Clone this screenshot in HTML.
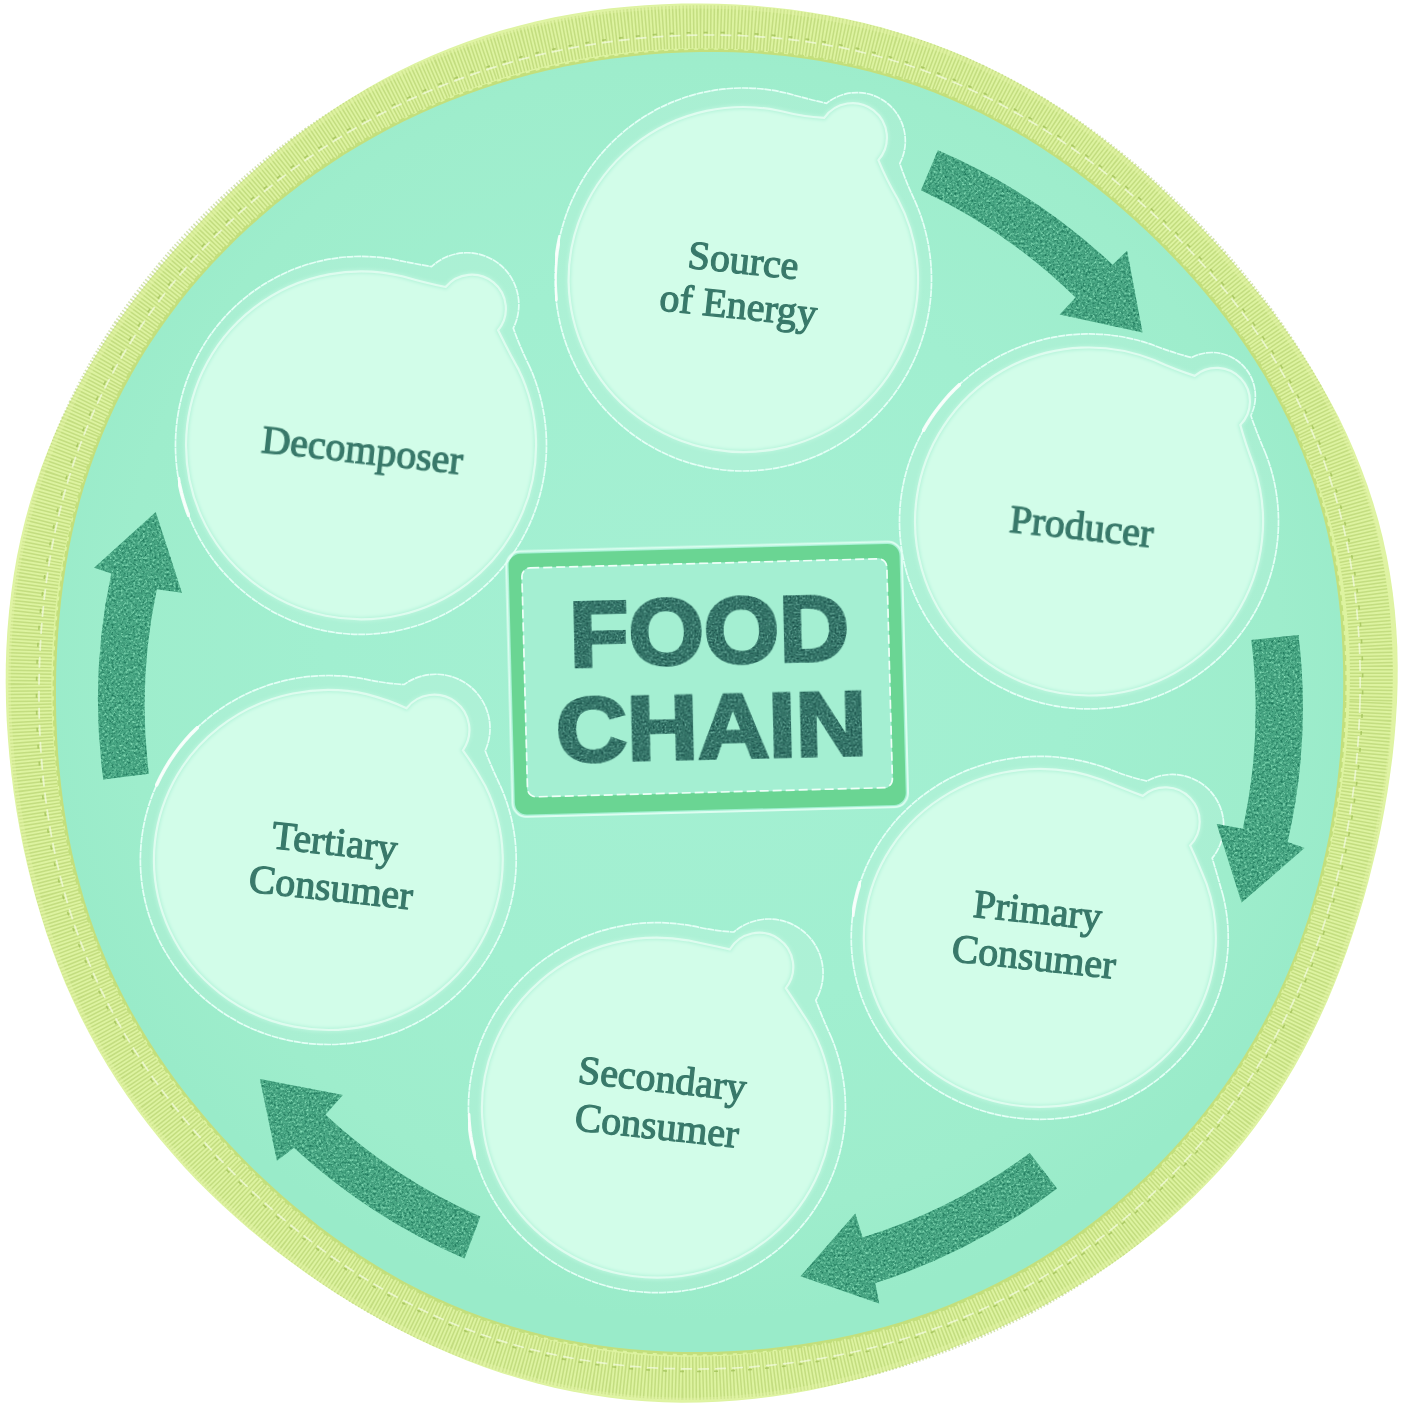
<!DOCTYPE html><html><head><meta charset="utf-8"><title>Food Chain</title><style>html,body{margin:0;padding:0;background:#fff;overflow:hidden}svg{display:block}</style></head><body><svg width="1403" height="1405" viewBox="0 0 1403 1405">
<defs>
<radialGradient id="mg" gradientUnits="userSpaceOnUse" cx="700" cy="640" r="680">
<stop offset="0" stop-color="#a5f0d3"/><stop offset=".55" stop-color="#a1efd0"/><stop offset=".85" stop-color="#9eedcc"/><stop offset="1" stop-color="#99ebc9"/>
</radialGradient>
<filter id="soft0" x="0" y="0" width="100%" height="100%"><feGaussianBlur stdDeviation="0.45"/></filter>
<filter id="soft" x="-2%" y="-2%" width="104%" height="104%"><feGaussianBlur stdDeviation="0.7"/></filter>
<filter id="soft2" x="-2%" y="-2%" width="104%" height="104%"><feGaussianBlur stdDeviation="1.6"/></filter>
<filter id="grain2" x="0" y="0" width="100%" height="100%" color-interpolation-filters="sRGB">
<feTurbulence type="fractalNoise" baseFrequency="0.5" numOctaves="2" seed="5" result="n"/>
<feColorMatrix in="n" type="matrix" values="0 0 0 0 0.45  0 0 0 0 0.71  0 0 0 0 0.65  0 0 0 2.6 -1.2" result="lt"/>
<feColorMatrix in="n" type="matrix" values="0 0 0 0 0.07  0 0 0 0 0.28  0 0 0 0 0.26  2.6 0 0 0 -1.2" result="dk"/>
<feMerge result="m"><feMergeNode in="lt"/><feMergeNode in="dk"/></feMerge>
<feComposite in="m" in2="SourceGraphic" operator="in" result="mm"/>
<feMerge><feMergeNode in="SourceGraphic"/><feMergeNode in="mm"/></feMerge>
</filter>
<filter id="grain" x="0" y="0" width="100%" height="100%" color-interpolation-filters="sRGB">
<feTurbulence type="fractalNoise" baseFrequency="0.42" numOctaves="2" seed="7" result="n"/>
<feColorMatrix in="n" type="matrix" values="0 0 0 0 0.53  0 0 0 0 0.87  0 0 0 0 0.72  0 0 0 2.6 -1.2" result="lt"/>
<feColorMatrix in="n" type="matrix" values="0 0 0 0 0.11  0 0 0 0 0.46  0 0 0 0 0.35  2.6 0 0 0 -1.2" result="dk"/>
<feMerge result="m"><feMergeNode in="lt"/><feMergeNode in="dk"/></feMerge>
<feComposite in="m" in2="SourceGraphic" operator="in" result="mm"/>
<feMerge><feMergeNode in="SourceGraphic"/><feMergeNode in="mm"/></feMerge>
</filter>
</defs>
<rect width="1403" height="1405" fill="#fff"/>
<path d="M1397.0,702.0L1395.9,720.2L1394.4,738.4L1392.5,756.5L1390.1,774.5L1387.4,792.5L1384.3,810.4L1380.9,828.2L1377.1,845.9L1372.9,863.6L1368.5,881.1L1363.7,898.6L1358.5,916.0L1353.0,933.2L1347.1,950.4L1340.9,967.5L1334.2,984.4L1327.2,1001.2L1319.7,1017.8L1311.8,1034.2L1303.4,1050.4L1294.6,1066.4L1285.3,1082.1L1275.5,1097.5L1265.3,1112.7L1254.6,1127.5L1243.4,1142.0L1231.8,1156.2L1219.7,1169.9L1207.2,1183.3L1194.3,1196.3L1181.0,1208.8L1167.3,1221.0L1153.3,1232.7L1138.9,1244.0L1124.3,1254.9L1109.3,1265.4L1094.1,1275.5L1078.7,1285.2L1063.1,1294.5L1047.2,1303.4L1031.2,1312.0L1015.0,1320.2L998.6,1328.0L982.0,1335.5L965.4,1342.6L948.5,1349.4L931.5,1355.9L914.4,1361.9L897.2,1367.7L879.8,1373.0L862.3,1378.0L844.7,1382.5L826.9,1386.7L809.0,1390.4L791.1,1393.7L773.0,1396.5L754.8,1398.7L736.6,1400.5L718.3,1401.8L700.0,1402.5L681.7,1402.7L663.3,1402.2L645.0,1401.3L626.7,1399.7L608.4,1397.5L590.3,1394.8L572.2,1391.5L554.3,1387.7L536.4,1383.3L518.8,1378.3L501.3,1372.9L484.0,1366.9L466.8,1360.5L449.9,1353.6L433.2,1346.2L416.6,1338.5L400.3,1330.3L384.2,1321.7L368.4,1312.8L352.7,1303.5L337.3,1293.9L322.1,1284.0L307.1,1273.7L292.3,1263.1L277.8,1252.2L263.6,1240.9L249.6,1229.4L235.9,1217.5L222.4,1205.3L209.3,1192.7L196.4,1179.9L183.9,1166.7L171.8,1153.1L160.0,1139.3L148.6,1125.1L137.6,1110.6L127.1,1095.8L116.9,1080.6L107.3,1065.2L98.0,1049.5L89.3,1033.6L81.0,1017.4L73.2,1001.0L65.8,984.4L58.9,967.5L52.5,950.6L46.5,933.4L41.0,916.1L35.9,898.7L31.2,881.2L26.9,863.6L23.0,845.9L19.5,828.1L16.4,810.3L13.7,792.4L11.4,774.4L9.4,756.3L7.9,738.3L6.7,720.2L6.0,702.0L5.7,683.8L5.8,665.6L6.4,647.4L7.5,629.2L9.1,611.0L11.2,592.9L13.8,574.8L16.9,556.8L20.6,538.9L24.9,521.1L29.7,503.4L35.1,485.9L41.0,468.6L47.5,451.5L54.5,434.6L62.0,418.0L70.0,401.5L78.6,385.4L87.5,369.5L96.9,353.8L106.7,338.4L116.9,323.3L127.5,308.5L138.4,293.9L149.6,279.6L161.1,265.6L172.9,251.8L185.0,238.3L197.3,225.0L210.0,212.0L222.9,199.2L236.0,186.7L249.5,174.5L263.2,162.6L277.2,150.9L291.4,139.6L305.9,128.7L320.8,118.0L335.9,107.8L351.3,98.0L366.9,88.6L382.9,79.6L399.1,71.1L415.5,63.1L432.2,55.6L449.2,48.5L466.3,42.0L483.6,36.1L501.1,30.6L518.8,25.7L536.6,21.3L554.5,17.3L572.5,13.9L590.6,11.0L608.7,8.6L626.9,6.7L645.2,5.2L663.4,4.2L681.7,3.6L700.0,3.5L718.3,3.8L736.5,4.6L754.8,5.8L773.0,7.5L791.2,9.6L809.3,12.2L827.3,15.2L845.2,18.8L863.1,22.8L880.8,27.3L898.4,32.4L915.8,37.9L933.0,44.0L950.1,50.5L966.9,57.6L983.5,65.2L999.9,73.2L1016.0,81.8L1031.9,90.8L1047.5,100.2L1062.7,110.1L1077.8,120.3L1092.5,130.9L1106.9,141.9L1121.1,153.2L1135.0,164.9L1148.6,176.8L1161.9,189.0L1175.0,201.4L1187.9,214.1L1200.5,227.0L1212.9,240.2L1225.0,253.6L1236.9,267.2L1248.5,281.1L1259.9,295.2L1271.0,309.6L1281.7,324.2L1292.2,339.1L1302.3,354.3L1312.1,369.7L1321.4,385.4L1330.3,401.4L1338.8,417.6L1346.7,434.1L1354.2,450.9L1361.0,467.9L1367.4,485.2L1373.1,502.6L1378.3,520.3L1382.8,538.1L1386.7,556.0L1390.0,574.1L1392.7,592.3L1394.8,610.5L1396.3,628.8L1397.3,647.1L1397.7,665.4L1397.6,683.7Z" fill="#ddf3a0" filter="url(#soft)"/>
<path d="M1371.0,702.0L1370.2,719.5L1369.0,737.1L1367.4,754.5L1365.4,771.9L1363.1,789.3L1360.4,806.6L1357.4,823.8L1354.0,841.0L1350.3,858.1L1346.2,875.1L1341.7,892.1L1336.9,908.9L1331.6,925.7L1326.0,942.3L1320.0,958.8L1313.5,975.2L1306.6,991.4L1299.3,1007.4L1291.6,1023.2L1283.4,1038.8L1274.8,1054.2L1265.7,1069.4L1256.2,1084.3L1246.3,1098.9L1235.9,1113.2L1225.1,1127.2L1213.9,1140.9L1202.3,1154.3L1190.4,1167.3L1178.0,1180.0L1165.3,1192.3L1152.3,1204.3L1138.9,1215.9L1125.2,1227.1L1111.2,1237.9L1096.9,1248.3L1082.4,1258.4L1067.6,1268.0L1052.5,1277.3L1037.3,1286.2L1021.8,1294.7L1006.1,1302.7L990.2,1310.4L974.1,1317.7L957.9,1324.6L941.5,1331.1L924.9,1337.2L908.2,1342.9L891.4,1348.1L874.4,1353.0L857.4,1357.5L840.2,1361.5L822.9,1365.1L805.5,1368.3L788.1,1371.1L770.6,1373.4L753.0,1375.3L735.4,1376.8L717.7,1377.7L700.0,1378.2L682.3,1378.3L664.6,1377.8L646.9,1376.9L629.2,1375.4L611.6,1373.5L594.0,1371.0L576.6,1368.0L559.2,1364.6L541.9,1360.6L524.7,1356.0L507.7,1351.0L490.9,1345.5L474.2,1339.5L457.8,1333.1L441.5,1326.1L425.4,1318.7L409.6,1310.9L393.9,1302.7L378.5,1294.1L363.4,1285.1L348.5,1275.7L333.8,1265.9L319.4,1255.8L305.2,1245.4L291.2,1234.7L277.6,1223.7L264.2,1212.3L251.0,1200.7L238.1,1188.7L225.5,1176.5L213.2,1163.9L201.2,1151.1L189.5,1138.0L178.2,1124.6L167.2,1110.9L156.5,1096.9L146.3,1082.6L136.4,1068.0L126.9,1053.2L117.9,1038.1L109.3,1022.7L101.2,1007.1L93.5,991.3L86.2,975.3L79.5,959.0L73.2,942.6L67.3,926.0L62.0,909.3L57.0,892.5L52.6,875.5L48.5,858.4L44.9,841.2L41.7,824.0L38.9,806.7L36.4,789.4L34.4,772.0L32.7,754.5L31.4,737.0L30.5,719.5L30.0,702.0L29.8,684.5L30.1,666.9L30.7,649.3L31.8,631.8L33.2,614.2L35.1,596.7L37.5,579.2L40.3,561.8L43.7,544.4L47.5,527.2L51.8,510.0L56.6,492.9L61.9,476.1L67.8,459.3L74.2,442.8L81.0,426.4L88.4,410.3L96.3,394.4L104.6,378.7L113.4,363.3L122.7,348.2L132.3,333.3L142.4,318.8L152.8,304.5L163.7,290.5L174.8,276.7L186.3,263.3L198.1,250.1L210.3,237.3L222.7,224.7L235.4,212.4L248.4,200.5L261.7,188.8L275.2,177.5L289.1,166.4L303.1,155.8L317.5,145.4L332.1,135.5L347.0,125.9L362.1,116.7L377.4,107.9L393.0,99.6L408.9,91.6L424.9,84.2L441.2,77.1L457.6,70.6L474.2,64.5L491.0,58.8L508.0,53.7L525.0,49.0L542.2,44.8L559.5,41.0L576.9,37.7L594.3,34.8L611.8,32.4L629.4,30.4L647.0,28.9L664.7,27.7L682.3,27.0L700.0,26.7L717.7,26.9L735.4,27.5L753.0,28.5L770.6,29.9L788.2,31.8L805.8,34.2L823.2,37.0L840.6,40.3L857.9,44.1L875.1,48.4L892.2,53.2L909.1,58.5L925.8,64.3L942.4,70.6L958.7,77.4L974.9,84.6L990.8,92.4L1006.4,100.6L1021.9,109.2L1037.0,118.3L1051.9,127.7L1066.5,137.6L1080.9,147.8L1095.0,158.3L1108.8,169.2L1122.4,180.4L1135.7,191.9L1148.8,203.6L1161.6,215.6L1174.1,227.9L1186.4,240.4L1198.5,253.2L1210.2,266.2L1221.8,279.5L1233.0,293.0L1243.9,306.8L1254.5,320.9L1264.8,335.2L1274.8,349.8L1284.3,364.7L1293.4,379.8L1302.2,395.2L1310.4,410.9L1318.2,426.8L1325.5,442.9L1332.2,459.3L1338.5,475.9L1344.2,492.7L1349.3,509.7L1353.9,526.8L1357.9,544.0L1361.4,561.4L1364.3,578.9L1366.7,596.4L1368.6,614.0L1370.0,631.6L1371.0,649.2L1371.4,666.8L1371.4,684.4Z" fill="none" stroke="#a9c860" stroke-opacity=".5" stroke-width="43" stroke-dasharray="1.5 1.9"/>
<path d="M1394.0,702.0L1392.9,720.1L1391.4,738.2L1389.5,756.3L1387.1,774.2L1384.4,792.1L1381.3,809.9L1377.9,827.6L1374.1,845.3L1370.0,862.9L1365.6,880.3L1360.8,897.7L1355.7,915.0L1350.2,932.2L1344.3,949.3L1338.1,966.3L1331.5,983.2L1324.5,999.9L1317.0,1016.4L1309.2,1032.7L1300.8,1048.9L1292.0,1064.8L1282.8,1080.5L1273.1,1095.8L1262.9,1110.9L1252.2,1125.7L1241.1,1140.1L1229.5,1154.2L1217.5,1167.9L1205.0,1181.2L1192.1,1194.1L1178.9,1206.7L1165.3,1218.7L1151.3,1230.4L1137.0,1241.7L1122.4,1252.5L1107.6,1263.0L1092.4,1273.0L1077.1,1282.7L1061.5,1291.9L1045.7,1300.8L1029.7,1309.3L1013.6,1317.5L997.3,1325.3L980.8,1332.7L964.2,1339.8L947.4,1346.6L930.5,1353.0L913.5,1359.1L896.3,1364.8L879.0,1370.1L861.6,1375.1L844.0,1379.6L826.4,1383.7L808.6,1387.4L790.7,1390.7L772.7,1393.5L754.6,1395.8L736.5,1397.5L718.2,1398.8L700.0,1399.5L681.7,1399.7L663.5,1399.2L645.2,1398.3L627.0,1396.7L608.8,1394.6L590.7,1391.9L572.7,1388.6L554.9,1384.7L537.1,1380.4L519.6,1375.4L502.1,1370.0L484.9,1364.1L467.8,1357.6L451.0,1350.8L434.3,1343.4L417.9,1335.7L401.6,1327.6L385.6,1319.1L369.8,1310.2L354.2,1301.0L338.8,1291.4L323.7,1281.5L308.8,1271.2L294.1,1260.7L279.7,1249.8L265.5,1238.6L251.5,1227.1L237.9,1215.3L224.5,1203.1L211.4,1190.6L198.6,1177.8L186.2,1164.7L174.1,1151.2L162.3,1137.4L151.0,1123.3L140.1,1108.8L129.5,1094.1L119.5,1079.0L109.8,1063.7L100.6,1048.0L91.9,1032.2L83.7,1016.0L75.9,999.7L68.6,983.1L61.7,966.4L55.3,949.5L49.3,932.4L43.8,915.2L38.7,897.9L34.1,880.4L29.8,862.9L25.9,845.3L22.5,827.6L19.4,809.8L16.7,792.0L14.4,774.1L12.4,756.1L10.9,738.1L9.7,720.1L9.0,702.0L8.7,683.9L8.8,665.8L9.4,647.7L10.5,629.5L12.1,611.4L14.1,593.4L16.7,575.4L19.9,557.4L23.5,539.6L27.8,521.9L32.6,504.3L37.9,486.9L43.8,469.6L50.3,452.6L57.3,435.8L64.8,419.2L72.8,402.8L81.2,386.7L90.2,370.9L99.5,355.3L109.3,340.0L119.4,325.0L129.9,310.2L140.8,295.7L151.9,281.5L163.4,267.5L175.2,253.8L187.2,240.3L199.5,227.1L212.1,214.1L224.9,201.4L238.0,188.9L251.4,176.8L265.1,164.9L279.0,153.3L293.2,142.1L307.6,131.1L322.4,120.6L337.4,110.4L352.8,100.6L368.4,91.2L384.2,82.3L400.4,73.8L416.8,65.8L433.4,58.3L450.2,51.3L467.3,44.9L484.6,38.9L502.0,33.5L519.6,28.6L537.3,24.2L555.1,20.3L573.0,16.9L591.0,14.0L609.1,11.6L627.2,9.7L645.4,8.2L663.6,7.2L681.8,6.6L700.0,6.5L718.2,6.8L736.4,7.6L754.6,8.8L772.7,10.5L790.8,12.6L808.8,15.1L826.7,18.2L844.6,21.7L862.4,25.7L880.0,30.2L897.5,35.2L914.8,40.8L932.0,46.8L949.0,53.3L965.8,60.4L982.3,67.9L998.6,75.9L1014.7,84.4L1030.4,93.4L1046.0,102.8L1061.2,112.6L1076.1,122.8L1090.8,133.4L1105.2,144.4L1119.3,155.6L1133.1,167.2L1146.6,179.1L1159.9,191.2L1173.0,203.6L1185.8,216.2L1198.3,229.1L1210.7,242.2L1222.7,255.5L1234.6,269.1L1246.1,282.9L1257.4,297.0L1268.5,311.3L1279.2,325.8L1289.6,340.7L1299.7,355.8L1309.4,371.1L1318.7,386.7L1327.6,402.6L1336.0,418.8L1343.9,435.3L1351.4,452.0L1358.2,468.9L1364.5,486.1L1370.2,503.5L1375.4,521.0L1379.9,538.8L1383.8,556.7L1387.1,574.7L1389.8,592.8L1391.9,610.9L1393.4,629.1L1394.3,647.4L1394.7,665.6L1394.6,683.8Z" fill="none" stroke="#e4f4a8" stroke-width="4" opacity=".4" filter="url(#soft)"/>
<path d="M1360.0,702.0L1359.4,719.3L1358.5,736.5L1357.2,753.7L1355.6,770.9L1353.7,788.1L1351.3,805.2L1348.7,822.2L1345.6,839.2L1342.2,856.2L1338.3,873.0L1334.1,889.8L1329.5,906.5L1324.4,923.1L1318.9,939.6L1312.9,955.9L1306.5,972.0L1299.6,988.0L1292.3,1003.8L1284.6,1019.4L1276.4,1034.8L1267.8,1049.9L1258.7,1064.8L1249.3,1079.5L1239.4,1093.9L1229.1,1108.0L1218.5,1121.9L1207.5,1135.4L1196.1,1148.7L1184.4,1161.7L1172.3,1174.3L1160.0,1186.7L1147.3,1198.7L1134.2,1210.4L1120.9,1221.8L1107.3,1232.8L1093.3,1243.4L1079.1,1253.6L1064.6,1263.5L1049.9,1272.9L1034.8,1281.9L1019.5,1290.5L1004.0,1298.7L988.3,1306.4L972.3,1313.7L956.2,1320.4L939.8,1326.8L923.3,1332.6L906.7,1338.0L889.9,1343.0L873.0,1347.5L855.9,1351.5L838.8,1355.1L821.6,1358.3L804.4,1361.1L787.1,1363.4L769.7,1365.3L752.3,1366.9L734.9,1368.0L717.5,1368.7L700.0,1369.0L682.5,1368.9L665.1,1368.4L647.6,1367.5L630.2,1366.1L612.8,1364.3L595.5,1362.0L578.2,1359.3L561.0,1356.1L543.8,1352.4L526.8,1348.3L510.0,1343.6L493.2,1338.4L476.6,1332.7L460.3,1326.6L444.1,1319.9L428.1,1312.7L412.3,1305.1L396.8,1297.0L381.6,1288.5L366.6,1279.5L351.8,1270.2L337.3,1260.5L323.1,1250.4L309.2,1239.9L295.5,1229.1L282.1,1218.0L269.0,1206.7L256.1,1195.0L243.5,1183.0L231.2,1170.8L219.1,1158.3L207.4,1145.6L195.9,1132.6L184.7,1119.3L173.8,1105.7L163.3,1091.9L153.1,1077.9L143.3,1063.5L133.8,1049.0L124.8,1034.1L116.1,1019.0L108.0,1003.7L100.2,988.1L93.0,972.3L86.2,956.3L79.9,940.0L74.0,923.7L68.7,907.1L63.9,890.4L59.5,873.6L55.6,856.7L52.1,839.7L49.1,822.6L46.5,805.5L44.3,788.3L42.5,771.1L41.1,753.9L40.0,736.6L39.3,719.3L39.0,702.0L39.0,684.7L39.4,667.4L40.1,650.1L41.1,632.7L42.5,615.4L44.3,598.2L46.5,580.9L49.1,563.6L52.1,546.5L55.6,529.3L59.5,512.3L63.9,495.3L68.7,478.5L74.1,461.7L80.0,445.2L86.4,428.8L93.3,412.6L100.6,396.6L108.5,380.9L116.9,365.4L125.8,350.1L135.2,335.2L145.0,320.5L155.2,306.2L165.9,292.1L176.9,278.4L188.4,265.0L200.2,252.0L212.3,239.2L224.8,226.8L237.6,214.8L250.8,203.1L264.2,191.7L277.9,180.7L291.8,170.1L306.1,159.8L320.5,149.9L335.3,140.3L350.2,131.2L365.4,122.4L380.8,114.1L396.4,106.2L412.2,98.6L428.2,91.5L444.4,84.8L460.7,78.6L477.2,72.8L493.8,67.4L510.5,62.4L527.4,57.8L544.4,53.7L561.4,50.0L578.5,46.7L595.8,43.8L613.0,41.3L630.3,39.2L647.7,37.6L665.1,36.3L682.5,35.4L700.0,35.0L717.5,35.0L734.9,35.4L752.4,36.2L769.8,37.5L787.3,39.2L804.6,41.4L821.9,44.1L839.2,47.2L856.3,50.9L873.4,55.0L890.3,59.7L907.0,64.8L923.6,70.5L940.1,76.6L956.3,83.3L972.3,90.4L988.1,98.0L1003.7,106.0L1019.0,114.5L1034.1,123.4L1048.9,132.6L1063.5,142.3L1077.8,152.3L1091.9,162.6L1105.7,173.3L1119.2,184.3L1132.6,195.5L1145.6,207.1L1158.4,218.9L1170.9,231.1L1183.2,243.5L1195.2,256.1L1206.9,269.1L1218.3,282.3L1229.4,295.8L1240.1,309.6L1250.5,323.7L1260.5,338.0L1270.1,352.6L1279.3,367.6L1288.0,382.7L1296.3,398.2L1304.0,413.9L1311.3,429.8L1318.1,446.0L1324.3,462.3L1330.0,478.9L1335.2,495.6L1339.9,512.5L1344.0,529.4L1347.6,546.5L1350.7,563.7L1353.4,580.9L1355.6,598.2L1357.3,615.5L1358.6,632.8L1359.6,650.1L1360.1,667.4L1360.2,684.7Z" fill="none" stroke="#f4fbe2" stroke-width="1.7" stroke-dasharray="11 6" opacity=".7"/>
<path d="M1362.5,702.0L1361.9,719.3L1361.0,736.6L1359.7,753.9L1358.1,771.2L1356.1,788.4L1353.8,805.6L1351.1,822.7L1348.1,839.7L1344.6,856.8L1340.8,873.7L1336.5,890.5L1331.8,907.3L1326.7,923.9L1321.2,940.5L1315.2,956.8L1308.8,973.0L1301.9,989.1L1294.6,1004.9L1286.8,1020.6L1278.6,1036.0L1269.9,1051.2L1260.8,1066.2L1251.3,1080.9L1241.4,1095.4L1231.1,1109.5L1220.4,1123.4L1209.4,1137.1L1198.0,1150.4L1186.2,1163.4L1174.1,1176.1L1161.7,1188.5L1148.9,1200.6L1135.9,1212.3L1122.5,1223.7L1108.8,1234.7L1094.8,1245.4L1080.5,1255.7L1066.0,1265.6L1051.2,1275.0L1036.1,1284.1L1020.7,1292.7L1005.2,1300.9L989.4,1308.7L973.3,1315.9L957.1,1322.8L940.7,1329.1L924.2,1335.0L907.4,1340.4L890.6,1345.4L873.6,1349.9L856.5,1354.0L839.4,1357.6L822.1,1360.8L804.8,1363.5L787.4,1365.9L770.0,1367.8L752.5,1369.4L735.0,1370.5L717.5,1371.2L700.0,1371.5L682.5,1371.4L664.9,1370.9L647.4,1369.9L629.9,1368.6L612.5,1366.8L595.1,1364.5L577.7,1361.8L560.4,1358.6L543.3,1354.9L526.2,1350.7L509.2,1346.0L492.4,1340.8L475.8,1335.1L459.4,1328.9L443.1,1322.2L427.1,1315.0L411.3,1307.4L395.7,1299.3L380.4,1290.7L365.3,1281.7L350.5,1272.3L336.0,1262.6L321.7,1252.4L307.7,1241.9L294.0,1231.1L280.5,1220.0L267.4,1208.6L254.4,1196.8L241.8,1184.8L229.4,1172.6L217.3,1160.0L205.5,1147.2L194.0,1134.2L182.8,1120.9L171.8,1107.3L161.3,1093.4L151.0,1079.3L141.2,1064.9L131.7,1050.3L122.6,1035.4L114.0,1020.2L105.7,1004.8L98.0,989.2L90.7,973.3L83.9,957.2L77.5,940.9L71.7,924.5L66.3,907.9L61.5,891.1L57.1,874.3L53.1,857.3L49.7,840.2L46.6,823.1L44.0,805.9L41.8,788.7L40.0,771.4L38.6,754.1L37.5,736.7L36.8,719.4L36.5,702.0L36.5,684.6L36.9,667.2L37.6,649.9L38.6,632.5L40.0,615.1L41.9,597.8L44.0,580.4L46.7,563.1L49.7,545.9L53.2,528.7L57.1,511.6L61.5,494.5L66.4,477.6L71.8,460.8L77.7,444.2L84.1,427.8L91.0,411.5L98.4,395.5L106.3,379.7L114.8,364.1L123.7,348.8L133.1,333.8L142.9,319.1L153.2,304.7L163.9,290.6L175.0,276.8L186.5,263.4L198.3,250.3L210.5,237.5L223.1,225.1L235.9,213.0L249.1,201.2L262.5,189.8L276.3,178.8L290.3,168.1L304.6,157.8L319.1,147.8L333.9,138.2L348.9,129.1L364.1,120.3L379.6,111.9L395.3,103.9L411.1,96.4L427.2,89.2L443.4,82.5L459.8,76.3L476.3,70.4L493.0,65.0L509.8,60.0L526.7,55.4L543.8,51.3L560.9,47.5L578.1,44.2L595.4,41.3L612.7,38.8L630.1,36.8L647.5,35.1L665.0,33.8L682.5,32.9L700.0,32.5L717.5,32.5L735.1,32.9L752.6,33.7L770.1,35.0L787.6,36.7L805.0,38.9L822.4,41.6L839.7,44.8L856.9,48.4L874.0,52.6L891.0,57.3L907.8,62.5L924.5,68.1L941.0,74.3L957.2,81.0L973.3,88.1L989.2,95.7L1004.8,103.8L1020.2,112.3L1035.3,121.2L1050.2,130.5L1064.8,140.2L1079.2,150.2L1093.3,160.6L1107.2,171.3L1120.8,182.3L1134.2,193.6L1147.3,205.2L1160.1,217.1L1172.7,229.3L1185.0,241.7L1197.0,254.5L1208.8,267.5L1220.2,280.7L1231.4,294.3L1242.1,308.1L1252.6,322.2L1262.6,336.6L1272.2,351.3L1281.4,366.3L1290.2,381.5L1298.5,397.1L1306.3,412.8L1313.6,428.8L1320.4,445.0L1326.6,461.5L1332.4,478.1L1337.6,494.8L1342.2,511.8L1346.4,528.8L1350.0,545.9L1353.2,563.2L1355.9,580.4L1358.1,597.8L1359.8,615.1L1361.1,632.5L1362.0,649.9L1362.6,667.3L1362.7,684.6Z" fill="none" stroke="#9dbe52" stroke-width="1.6" stroke-dasharray="4 13" stroke-dashoffset="-12" opacity=".7"/>
<path d="M1345.2,702.0L1344.6,718.9L1343.7,735.7L1342.5,752.6L1340.9,769.4L1339.0,786.1L1336.7,802.8L1334.1,819.5L1331.1,836.2L1327.8,852.7L1324.1,869.2L1319.9,885.6L1315.4,902.0L1310.4,918.2L1305.0,934.3L1299.2,950.2L1293.0,966.0L1286.3,981.6L1279.1,997.1L1271.6,1012.3L1263.6,1027.4L1255.2,1042.2L1246.3,1056.8L1237.1,1071.1L1227.4,1085.2L1217.4,1099.0L1207.0,1112.6L1196.2,1125.8L1185.1,1138.8L1173.7,1151.5L1161.9,1163.9L1149.8,1176.0L1137.3,1187.7L1124.6,1199.2L1111.6,1210.3L1098.3,1221.0L1084.6,1231.4L1070.7,1241.4L1056.6,1251.1L1042.1,1260.3L1027.4,1269.1L1012.5,1277.5L997.3,1285.5L981.9,1293.0L966.3,1300.1L950.5,1306.8L934.5,1313.0L918.4,1318.7L902.1,1324.0L885.7,1328.8L869.1,1333.2L852.5,1337.1L835.8,1340.7L818.9,1343.8L802.1,1346.5L785.1,1348.7L768.2,1350.6L751.2,1352.1L734.1,1353.2L717.1,1353.9L700.0,1354.2L682.9,1354.1L665.9,1353.6L648.8,1352.7L631.7,1351.4L614.7,1349.6L597.8,1347.4L580.9,1344.8L564.0,1341.6L547.3,1338.0L530.7,1334.0L514.2,1329.4L497.8,1324.3L481.6,1318.8L465.6,1312.7L449.7,1306.2L434.1,1299.2L418.7,1291.8L403.5,1283.8L388.6,1275.5L374.0,1266.7L359.5,1257.6L345.4,1248.0L331.5,1238.2L317.9,1227.9L304.5,1217.4L291.4,1206.5L278.6,1195.4L266.0,1184.0L253.7,1172.3L241.7,1160.3L229.9,1148.1L218.4,1135.7L207.1,1122.9L196.2,1110.0L185.6,1096.7L175.3,1083.2L165.3,1069.5L155.7,1055.5L146.4,1041.2L137.6,1026.7L129.2,1011.9L121.2,996.9L113.6,981.7L106.5,966.2L99.8,950.6L93.7,934.7L88.0,918.7L82.8,902.5L78.0,886.2L73.8,869.8L70.0,853.3L66.6,836.6L63.6,819.9L61.1,803.2L59.0,786.4L57.2,769.6L55.8,752.7L54.8,735.8L54.1,718.9L53.8,702.0L53.8,685.1L54.1,668.2L54.8,651.2L55.8,634.3L57.2,617.4L58.9,600.5L61.1,583.6L63.6,566.7L66.5,549.9L69.9,533.2L73.7,516.5L78.0,499.9L82.7,483.4L87.9,467.0L93.7,450.8L99.9,434.8L106.6,419.0L113.8,403.3L121.6,387.9L129.8,372.8L138.4,357.9L147.6,343.2L157.2,328.9L167.2,314.9L177.6,301.1L188.4,287.7L199.6,274.6L211.2,261.9L223.1,249.4L235.3,237.3L247.8,225.5L260.7,214.1L273.8,203.0L287.2,192.2L300.8,181.8L314.7,171.7L328.9,162.1L343.3,152.7L357.9,143.8L372.8,135.3L387.9,127.1L403.1,119.3L418.6,112.0L434.2,105.1L450.0,98.5L466.0,92.4L482.1,86.7L498.4,81.4L514.7,76.6L531.2,72.1L547.8,68.1L564.5,64.5L581.2,61.2L598.1,58.4L615.0,56.0L631.9,54.0L648.9,52.3L665.9,51.1L682.9,50.2L700.0,49.8L717.1,49.8L734.2,50.1L751.2,51.0L768.3,52.2L785.3,53.9L802.3,56.0L819.2,58.6L836.1,61.7L852.9,65.3L869.5,69.3L886.1,73.9L902.5,78.9L918.7,84.4L934.8,90.5L950.6,97.0L966.3,103.9L981.7,111.3L997.0,119.2L1011.9,127.5L1026.7,136.2L1041.2,145.3L1055.4,154.7L1069.4,164.5L1083.2,174.6L1096.7,185.0L1109.9,195.8L1122.9,206.8L1135.7,218.1L1148.2,229.7L1160.5,241.5L1172.5,253.6L1184.2,266.0L1195.6,278.7L1206.8,291.6L1217.6,304.8L1228.1,318.3L1238.3,332.0L1248.1,346.1L1257.5,360.4L1266.5,375.0L1275.0,389.8L1283.1,404.9L1290.7,420.3L1297.8,435.8L1304.4,451.6L1310.5,467.7L1316.1,483.8L1321.1,500.2L1325.7,516.7L1329.7,533.3L1333.2,550.0L1336.3,566.8L1338.8,583.6L1341.0,600.5L1342.7,617.4L1343.9,634.3L1344.8,651.3L1345.3,668.2L1345.4,685.1Z" fill="#c3df7c" stroke="#c3df7c" stroke-width="2.4" stroke-dasharray="6 4"/>
<path d="M1343.0,702.0L1342.4,718.8L1341.5,735.6L1340.3,752.4L1338.7,769.1L1336.8,785.8L1334.5,802.5L1331.9,819.1L1329.0,835.7L1325.6,852.2L1321.9,868.6L1317.8,885.0L1313.3,901.3L1308.4,917.4L1303.0,933.5L1297.2,949.4L1291.0,965.1L1284.3,980.7L1277.2,996.1L1269.6,1011.3L1261.7,1026.3L1253.3,1041.0L1244.5,1055.6L1235.2,1069.9L1225.6,1083.9L1215.6,1097.7L1205.3,1111.2L1194.6,1124.4L1183.5,1137.3L1172.1,1150.0L1160.3,1162.3L1148.3,1174.4L1135.9,1186.1L1123.2,1197.5L1110.2,1208.6L1096.9,1219.3L1083.3,1229.6L1069.5,1239.6L1055.4,1249.2L1041.0,1258.4L1026.3,1267.2L1011.4,1275.6L996.3,1283.5L981.0,1291.1L965.4,1298.1L949.7,1304.7L933.7,1310.9L917.6,1316.6L901.4,1321.9L885.0,1326.7L868.6,1331.1L852.0,1335.0L835.3,1338.5L818.5,1341.6L801.7,1344.3L784.9,1346.6L767.9,1348.4L751.0,1349.9L734.0,1351.0L717.0,1351.7L700.0,1352.0L683.0,1351.9L666.0,1351.4L649.0,1350.5L632.0,1349.2L615.0,1347.4L598.1,1345.2L581.3,1342.6L564.5,1339.5L547.8,1335.9L531.2,1331.8L514.8,1327.3L498.5,1322.2L482.3,1316.7L466.3,1310.7L450.6,1304.2L435.0,1297.2L419.6,1289.8L404.5,1281.9L389.7,1273.6L375.1,1264.8L360.7,1255.7L346.6,1246.2L332.8,1236.3L319.2,1226.2L305.9,1215.6L292.8,1204.8L280.0,1193.7L267.5,1182.3L255.2,1170.7L243.2,1158.8L231.5,1146.6L220.0,1134.2L208.8,1121.5L197.9,1108.6L187.3,1095.4L177.0,1082.0L167.1,1068.3L157.5,1054.3L148.3,1040.1L139.5,1025.6L131.1,1010.9L123.1,995.9L115.6,980.8L108.5,965.4L101.9,949.7L95.7,934.0L90.1,918.0L84.9,901.9L80.2,885.6L75.9,869.2L72.1,852.7L68.7,836.2L65.8,819.5L63.3,802.8L61.2,786.1L59.4,769.3L58.0,752.5L57.0,735.7L56.3,718.9L56.0,702.0L56.0,685.1L56.3,668.3L57.0,651.4L58.0,634.5L59.4,617.7L61.1,600.8L63.2,584.0L65.7,567.2L68.6,550.4L72.0,533.7L75.8,517.1L80.0,500.6L84.8,484.1L90.0,467.8L95.7,451.7L101.9,435.7L108.6,419.9L115.8,404.3L123.5,389.0L131.7,373.9L140.3,359.0L149.4,344.4L159.0,330.2L169.0,316.2L179.3,302.5L190.1,289.1L201.3,276.1L212.8,263.3L224.7,250.9L236.8,238.8L249.3,227.1L262.1,215.7L275.2,204.6L288.6,193.9L302.2,183.5L316.0,173.5L330.2,163.9L344.5,154.6L359.1,145.7L373.9,137.2L388.9,129.0L404.1,121.3L419.5,114.0L435.1,107.1L450.9,100.6L466.8,94.5L482.9,88.8L499.0,83.5L515.4,78.7L531.8,74.3L548.3,70.2L564.9,66.6L581.6,63.4L598.4,60.6L615.2,58.2L632.1,56.2L649.0,54.5L666.0,53.3L683.0,52.4L700.0,52.0L717.0,52.0L734.0,52.3L751.1,53.1L768.1,54.4L785.0,56.1L802.0,58.2L818.8,60.8L835.6,63.9L852.4,67.4L869.0,71.4L885.4,76.0L901.8,81.0L918.0,86.5L934.0,92.5L949.8,99.0L965.4,105.9L980.8,113.3L996.0,121.2L1010.9,129.4L1025.6,138.1L1040.0,147.1L1054.2,156.5L1068.2,166.3L1081.9,176.4L1095.3,186.8L1108.6,197.5L1121.5,208.5L1134.2,219.7L1146.7,231.3L1158.9,243.1L1170.9,255.2L1182.6,267.5L1194.0,280.1L1205.1,293.0L1215.9,306.1L1226.4,319.6L1236.5,333.3L1246.2,347.3L1255.6,361.5L1264.6,376.1L1273.1,390.9L1281.1,405.9L1288.7,421.2L1295.8,436.7L1302.4,452.5L1308.4,468.4L1314.0,484.6L1319.0,500.9L1323.6,517.3L1327.6,533.8L1331.1,550.5L1334.1,567.2L1336.7,584.0L1338.8,600.8L1340.5,617.7L1341.7,634.6L1342.6,651.4L1343.1,668.3L1343.2,685.2Z" fill="url(#mg)"/>
<clipPath id="disc"><path d="M1342.0,702.0L1341.4,718.8L1340.5,735.6L1339.3,752.3L1337.7,769.0L1335.8,785.7L1333.6,802.3L1331.0,818.9L1328.0,835.5L1324.7,852.0L1321.0,868.4L1316.9,884.7L1312.3,901.0L1307.4,917.1L1302.1,933.1L1296.3,949.0L1290.1,964.7L1283.4,980.3L1276.3,995.6L1268.8,1010.8L1260.8,1025.8L1252.4,1040.5L1243.6,1055.0L1234.4,1069.3L1224.8,1083.3L1214.9,1097.1L1204.5,1110.5L1193.8,1123.7L1182.7,1136.7L1171.3,1149.3L1159.6,1161.6L1147.6,1173.6L1135.2,1185.3L1122.5,1196.7L1109.6,1207.8L1096.3,1218.5L1082.8,1228.8L1068.9,1238.8L1054.8,1248.4L1040.5,1257.6L1025.8,1266.3L1011.0,1274.7L995.9,1282.7L980.5,1290.2L965.0,1297.2L949.3,1303.8L933.4,1310.0L917.3,1315.7L901.1,1320.9L884.8,1325.7L868.3,1330.1L851.7,1334.0L835.1,1337.5L818.4,1340.6L801.6,1343.3L784.7,1345.6L767.8,1347.4L750.9,1348.9L734.0,1350.0L717.0,1350.7L700.0,1351.0L683.0,1350.9L666.0,1350.4L649.0,1349.5L632.1,1348.2L615.2,1346.4L598.3,1344.3L581.5,1341.6L564.7,1338.5L548.0,1334.9L531.5,1330.9L515.1,1326.3L498.8,1321.3L482.7,1315.8L466.7,1309.8L450.9,1303.3L435.4,1296.3L420.1,1288.9L405.0,1281.0L390.1,1272.7L375.6,1264.0L361.2,1254.8L347.1,1245.4L333.3,1235.5L319.8,1225.3L306.5,1214.9L293.4,1204.1L280.7,1193.0L268.2,1181.6L255.9,1170.0L243.9,1158.1L232.2,1145.9L220.7,1133.5L209.6,1120.9L198.7,1108.0L188.1,1094.8L177.8,1081.4L167.9,1067.7L158.4,1053.7L149.2,1039.6L140.4,1025.1L132.0,1010.4L124.0,995.5L116.5,980.3L109.4,964.9L102.8,949.4L96.7,933.6L91.0,917.7L85.8,901.6L81.1,885.3L76.9,869.0L73.1,852.5L69.7,836.0L66.8,819.4L64.3,802.7L62.1,786.0L60.4,769.2L59.0,752.4L58.0,735.6L57.3,718.8L57.0,702.0L57.0,685.2L57.3,668.3L58.0,651.5L59.0,634.6L60.4,617.8L62.1,601.0L64.2,584.2L66.7,567.4L69.6,550.7L73.0,534.0L76.7,517.4L81.0,500.9L85.7,484.5L90.9,468.2L96.6,452.1L102.8,436.1L109.5,420.3L116.7,404.8L124.4,389.5L132.5,374.4L141.2,359.5L150.3,345.0L159.8,330.7L169.8,316.8L180.1,303.1L190.9,289.7L202.0,276.7L213.5,264.0L225.4,251.6L237.6,239.6L250.0,227.8L262.8,216.4L275.9,205.4L289.2,194.7L302.8,184.3L316.6,174.3L330.7,164.7L345.1,155.4L359.6,146.5L374.4,138.0L389.4,129.9L404.6,122.2L420.0,114.9L435.5,108.0L451.3,101.5L467.1,95.4L483.2,89.7L499.4,84.5L515.7,79.6L532.1,75.2L548.6,71.2L565.2,67.6L581.8,64.4L598.6,61.6L615.4,59.2L632.2,57.1L649.1,55.5L666.1,54.3L683.0,53.4L700.0,53.0L717.0,53.0L734.0,53.3L751.0,54.1L768.0,55.4L784.9,57.0L801.8,59.2L818.7,61.8L835.4,64.8L852.1,68.4L868.7,72.4L885.2,76.9L901.5,81.9L917.6,87.5L933.6,93.4L949.4,99.9L965.0,106.8L980.4,114.2L995.5,122.1L1010.4,130.3L1025.1,138.9L1039.5,148.0L1053.7,157.4L1067.6,167.1L1081.3,177.2L1094.7,187.6L1107.9,198.3L1120.9,209.2L1133.6,220.5L1146.0,232.0L1158.2,243.8L1170.1,255.9L1181.8,268.2L1193.2,280.8L1204.3,293.6L1215.1,306.8L1225.5,320.2L1235.7,333.8L1245.4,347.8L1254.8,362.0L1263.7,376.6L1272.2,391.3L1280.2,406.4L1287.8,421.6L1294.9,437.1L1301.4,452.9L1307.5,468.8L1313.1,484.9L1318.1,501.2L1322.6,517.6L1326.6,534.1L1330.1,550.7L1333.1,567.4L1335.7,584.2L1337.8,601.0L1339.5,617.8L1340.7,634.7L1341.6,651.5L1342.1,668.3L1342.2,685.2Z"/></clipPath><g clip-path="url(#disc)">
<path d="M915.1,201.3A188.2,191.5 0 1 1 787.7,93.4Q808.7,99.3 826.5,103.3A48.4,48.4 0 0 1 899.8,163.4Q905.7,181.4 915.1,201.3Z" fill="#fff" fill-opacity=".12"/>
<path d="M915.1,201.3A188.2,191.5 0 1 1 787.7,93.4Q808.7,99.3 826.5,103.3A48.4,48.4 0 0 1 899.8,163.4Q905.7,181.4 915.1,201.3Z" fill="none" stroke="#e4fff6" stroke-width="1.7" stroke-dasharray="7 0.6"/>
<path d="M1265.3,452.7A189.5,187.5 0 1 1 1153.1,345.0Q1173.4,353.0 1191.6,357.5A43.5,43.5 0 0 1 1250.8,415.4Q1256.7,432.8 1265.3,452.7Z" fill="#fff" fill-opacity=".12"/>
<path d="M1265.3,452.7A189.5,187.5 0 1 1 1153.1,345.0Q1173.4,353.0 1191.6,357.5A43.5,43.5 0 0 1 1250.8,415.4Q1256.7,432.8 1265.3,452.7Z" fill="none" stroke="#e4fff6" stroke-width="1.7" stroke-dasharray="7 0.6"/>
<path d="M1222.9,895.0A188.5,181.5 0 1 1 1108.6,768.9Q1128.6,777.1 1147.1,781.1A51.3,51.3 0 0 1 1212.2,858.1Q1217.2,874.8 1222.9,895.0Z" fill="#fff" fill-opacity=".12"/>
<path d="M1222.9,895.0A188.5,181.5 0 1 1 1108.6,768.9Q1128.6,777.1 1147.1,781.1A51.3,51.3 0 0 1 1212.2,858.1Q1217.2,874.8 1222.9,895.0Z" fill="none" stroke="#e4fff6" stroke-width="1.7" stroke-dasharray="7 0.6"/>
<path d="M831.0,1036.6A188.5,185.0 0 1 1 693.7,926.2Q714.9,931.0 733.8,932.0A54.1,54.1 0 0 1 815.8,1000.2Q822.1,1017.1 831.0,1036.6Z" fill="#fff" fill-opacity=".12"/>
<path d="M831.0,1036.6A188.5,185.0 0 1 1 693.7,926.2Q714.9,931.0 733.8,932.0A54.1,54.1 0 0 1 815.8,1000.2Q822.1,1017.1 831.0,1036.6Z" fill="none" stroke="#e4fff6" stroke-width="1.7" stroke-dasharray="7 0.6"/>
<path d="M500.8,786.9A187.9,184.5 0 1 1 364.1,678.9Q385.2,683.5 404.1,684.5A54.2,54.2 0 0 1 485.2,750.8Q491.7,767.6 500.8,786.9Z" fill="#fff" fill-opacity=".12"/>
<path d="M500.8,786.9A187.9,184.5 0 1 1 364.1,678.9Q385.2,683.5 404.1,684.5A54.2,54.2 0 0 1 485.2,750.8Q491.7,767.6 500.8,786.9Z" fill="none" stroke="#e4fff6" stroke-width="1.7" stroke-dasharray="7 0.6"/>
<path d="M529.0,365.3A185.5,189.0 0 1 1 392.9,259.2Q413.8,263.6 431.5,266.6A52.0,52.0 0 0 1 513.3,328.1Q519.4,345.8 529.0,365.3Z" fill="#fff" fill-opacity=".12"/>
<path d="M529.0,365.3A185.5,189.0 0 1 1 392.9,259.2Q413.8,263.6 431.5,266.6A52.0,52.0 0 0 1 513.3,328.1Q519.4,345.8 529.0,365.3Z" fill="none" stroke="#e4fff6" stroke-width="1.7" stroke-dasharray="7 0.6"/>
<path d="M556.1,299.5L555.5,291.6L555.1,283.7L555.1,275.7L555.5,267.8L556.1,259.9L557.0,252.0L558.3,244.2L559.9,236.4" fill="none" stroke="#fbfffd" stroke-width="3.6" stroke-linecap="round" opacity=".9" filter="url(#soft)"/>
<path d="M923.3,430.6L927.0,424.2L931.0,418.0L935.2,412.0L939.7,406.1L944.4,400.4L949.3,394.8L954.4,389.5L959.8,384.4" fill="none" stroke="#fbfffd" stroke-width="3.6" stroke-linecap="round" opacity=".9" filter="url(#soft)"/>
<path d="M852.7,915.8L853.3,911.5L854.0,907.2L854.8,902.9L855.8,898.6L856.8,894.4L857.9,890.2L859.2,886.0L860.5,881.8" fill="none" stroke="#fbfffd" stroke-width="3.6" stroke-linecap="round" opacity=".9" filter="url(#soft)"/>
<path d="M475.8,1158.7L474.3,1153.2L473.0,1147.7L471.8,1142.2L470.8,1136.6L470.0,1131.0L469.4,1125.4L468.9,1119.8L468.6,1114.2" fill="none" stroke="#fbfffd" stroke-width="3.6" stroke-linecap="round" opacity=".9" filter="url(#soft)"/>
<path d="M156.6,785.0L160.5,777.0L164.8,769.1L169.4,761.5L174.4,754.2L179.7,747.0L185.4,740.2L191.4,733.6L197.8,727.3" fill="none" stroke="#fbfffd" stroke-width="3.6" stroke-linecap="round" opacity=".9" filter="url(#soft)"/>
<path d="M189.0,516.2L187.2,511.6L185.6,506.9L184.1,502.2L182.7,497.5L181.4,492.7L180.3,487.9L179.2,483.1L178.3,478.2" fill="none" stroke="#fbfffd" stroke-width="3.6" stroke-linecap="round" opacity=".9" filter="url(#soft)"/>
<path d="M897.8,199.0A174.7,172.5 0 1 1 780.5,111.0Q803.3,116.8 824.2,117.9A34.4,34.4 0 1 1 878.4,160.1Q886.0,178.9 897.8,199.0Z" fill="#d2fde9" stroke="#b8f5dc" stroke-width="5" filter="url(#soft2)"/>
<path d="M897.8,199.0A174.7,172.5 0 1 1 780.5,111.0Q803.3,116.8 824.2,117.9A34.4,34.4 0 1 1 878.4,160.1Q886.0,178.9 897.8,199.0Z" fill="none" stroke="#effff8" stroke-width="2.2" opacity=".7" filter="url(#soft)"/>
<path d="M1254.0,466.1A174.0,174.0 0 1 1 1154.1,360.1Q1175.4,369.8 1194.7,375.9A33.5,33.5 0 0 1 1240.3,424.9Q1245.6,444.3 1254.0,466.1Z" fill="#d2fde9" stroke="#b8f5dc" stroke-width="5" filter="url(#soft2)"/>
<path d="M1254.0,466.1A174.0,174.0 0 1 1 1154.1,360.1Q1175.4,369.8 1194.7,375.9A33.5,33.5 0 0 1 1240.3,424.9Q1245.6,444.3 1254.0,466.1Z" fill="none" stroke="#effff8" stroke-width="2.2" opacity=".7" filter="url(#soft)"/>
<path d="M1206.6,883.9A176.0,169.0 0 1 1 1102.5,780.0Q1124.2,788.9 1142.8,795.9A34.3,34.3 0 0 1 1190.1,845.5Q1198.1,862.7 1206.6,883.9Z" fill="#d2fde9" stroke="#b8f5dc" stroke-width="5" filter="url(#soft2)"/>
<path d="M1206.6,883.9A176.0,169.0 0 1 1 1102.5,780.0Q1124.2,788.9 1142.8,795.9A34.3,34.3 0 0 1 1190.1,845.5Q1198.1,862.7 1206.6,883.9Z" fill="none" stroke="#effff8" stroke-width="2.2" opacity=".7" filter="url(#soft)"/>
<path d="M809.0,1023.5A175.0,170.0 0 1 1 687.7,940.3Q710.6,945.3 729.9,949.3A34.1,34.1 0 1 1 785.8,988.1Q796.5,1004.1 809.0,1023.5Z" fill="#d2fde9" stroke="#b8f5dc" stroke-width="5" filter="url(#soft2)"/>
<path d="M809.0,1023.5A175.0,170.0 0 1 1 687.7,940.3Q710.6,945.3 729.9,949.3A34.1,34.1 0 1 1 785.8,988.1Q796.5,1004.1 809.0,1023.5Z" fill="none" stroke="#effff8" stroke-width="2.2" opacity=".7" filter="url(#soft)"/>
<path d="M485.2,785.7A174.4,170.0 0 1 1 366.5,694.1Q389.2,700.1 406.5,708.2A35.2,35.2 0 0 1 462.9,750.3Q474.1,765.6 485.2,785.7Z" fill="#d2fde9" stroke="#b8f5dc" stroke-width="5" filter="url(#soft2)"/>
<path d="M485.2,785.7A174.4,170.0 0 1 1 366.5,694.1Q389.2,700.1 406.5,708.2A35.2,35.2 0 0 1 462.9,750.3Q474.1,765.6 485.2,785.7Z" fill="none" stroke="#effff8" stroke-width="2.2" opacity=".7" filter="url(#soft)"/>
<path d="M518.1,368.6A175.0,174.0 0 1 1 403.2,276.5Q425.8,283.1 445.6,287.0A34.0,34.0 0 0 1 498.1,330.3Q506.8,348.1 518.1,368.6Z" fill="#d2fde9" stroke="#b8f5dc" stroke-width="5" filter="url(#soft2)"/>
<path d="M518.1,368.6A175.0,174.0 0 1 1 403.2,276.5Q425.8,283.1 445.6,287.0A34.0,34.0 0 0 1 498.1,330.3Q506.8,348.1 518.1,368.6Z" fill="none" stroke="#effff8" stroke-width="2.2" opacity=".7" filter="url(#soft)"/>
</g>
<g fill="#47a582" filter="url(#grain)">
<path d="M937.9,150.3A602,602 0 0 1 1112.6,264.7L1127.1,250.7L1142.5,332.6L1059.7,314.6L1075.6,297.6A557,557 0 0 0 921.0,190.3Z"/>
<path d="M1298.5,635.1A602,602 0 0 1 1287.6,842.0L1304.5,848.1L1241.6,902.5L1216.7,823.9L1242.8,828.7A557,557 0 0 0 1251.3,639.9Z"/>
<path d="M1057.1,1188.4A602,602 0 0 1 875.3,1283.1L879.2,1303.6L800.5,1276.3L855.3,1213.5L862.6,1237.5A557,557 0 0 0 1029.8,1153.1Z"/>
<path d="M464.5,1258.5A602,602 0 0 1 293.9,1147.8L276.9,1160.7L259.9,1078.9L342.8,1094.9L325.4,1114.8A557,557 0 0 0 480.4,1216.6Z"/>
<path d="M103.3,779.5A602,602 0 0 1 111.3,573.4L94.2,567.7L155.7,511.9L181.9,592.8L156.8,589.3A557,557 0 0 0 148.8,773.8Z"/>
</g>
<g transform="rotate(-1.5 707.2 679.3)">
<rect x="509.40000000000003" y="546.5" width="395.6" height="265.6" rx="14" fill="none" stroke="#e4fff5" stroke-width="2" opacity=".9" filter="url(#soft)"/>
<rect x="511.70000000000005" y="548.8" width="391" height="261" rx="12" fill="#6ad593"/>
<rect x="524.2" y="562.8" width="366" height="230" rx="9" fill="#a4efd2"/>
<rect x="524.7" y="563.3" width="365" height="229" rx="8.5" fill="none" stroke="#effff8" stroke-width="1.7" stroke-dasharray="9 4"/>
</g>
<g transform="rotate(-1.3 710 681)" font-family="'Liberation Sans',Arial,sans-serif" font-weight="bold" fill="#337467" stroke="#337467" stroke-width="3.4" stroke-linejoin="miter" text-anchor="middle" filter="url(#grain2)"><text transform="translate(710.3,662.6) scale(1.035,1)" font-size="93.5">FOOD</text><text transform="translate(710.4,757.8) scale(1.09,1)" font-size="90">CHAIN</text></g>
<g font-family="'Liberation Serif','Times New Roman',serif" font-size="40" fill="#39796a" stroke="#39796a" stroke-width="1.2" stroke-linejoin="round" text-anchor="middle" filter="url(#soft0)">
<text transform="translate(742,273.6) rotate(6.0)">Source</text>
<text transform="translate(737,318.5) rotate(6.0)">of Energy</text>
<text transform="translate(1080.3,539.7) rotate(6.2)">Producer</text>
<text transform="translate(1036.4,923.4) rotate(6.0)">Primary</text>
<text transform="translate(1032.4,969.9) rotate(6.2)">Consumer</text>
<text transform="translate(661,1091.9) rotate(6.2)">Secondary</text>
<text transform="translate(655.4,1138.9) rotate(6.2)">Consumer</text>
<text transform="translate(333.3,855) rotate(6.3)">Tertiary</text>
<text transform="translate(329.5,900.5) rotate(6.2)">Consumer</text>
<text transform="translate(360.9,463.4) rotate(6.3)">Decomposer</text>
</g>
</svg></body></html>
